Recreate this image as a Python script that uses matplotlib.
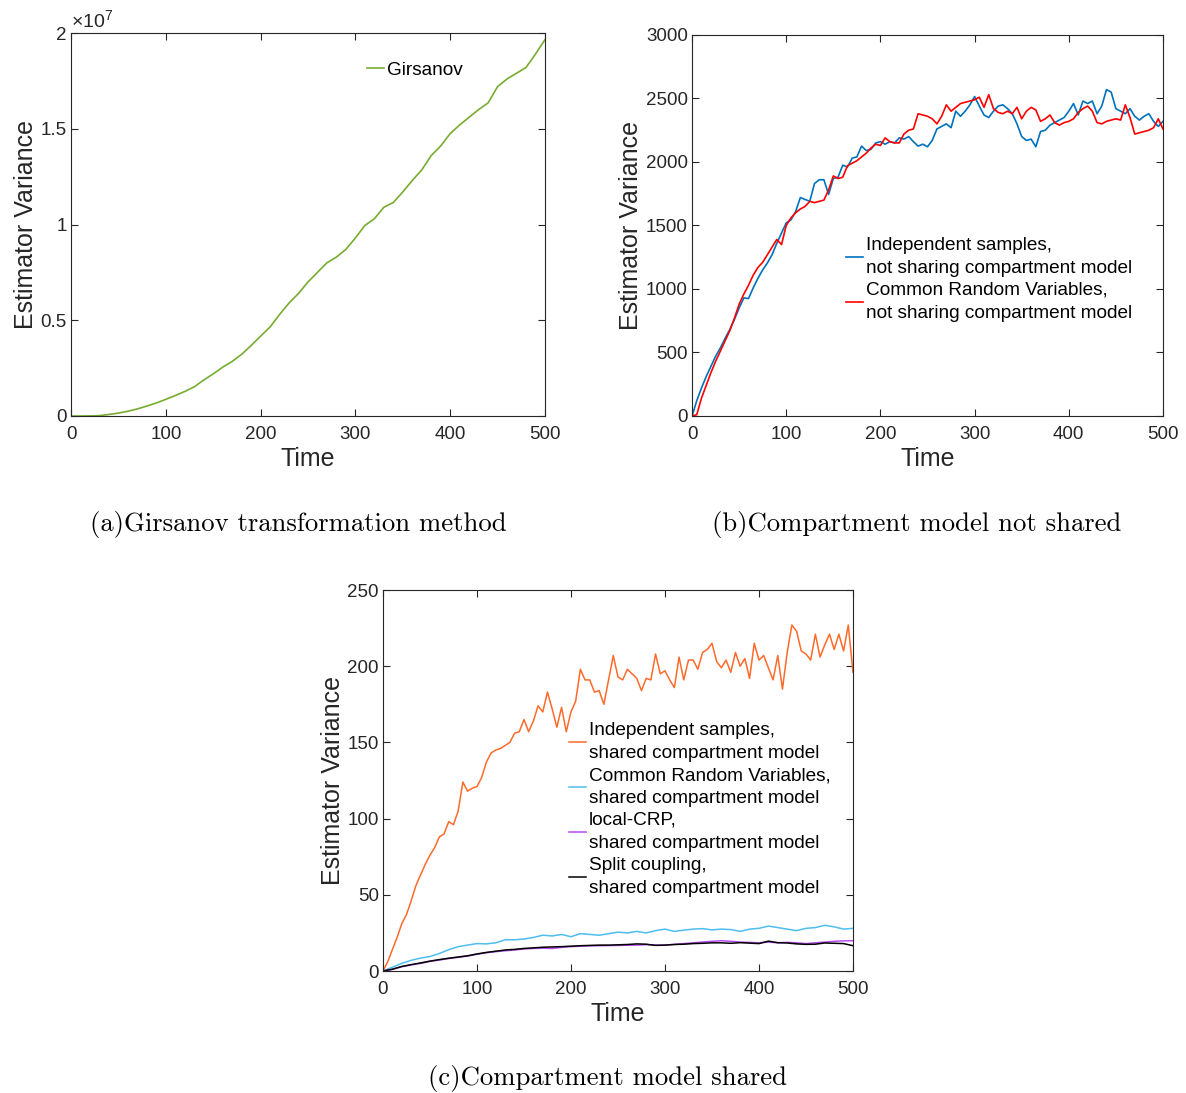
import numpy as np
import matplotlib
matplotlib.use('Agg')
import matplotlib.pyplot as plt

plt.rcParams['font.family'] = ['Liberation Sans', 'DejaVu Sans']
plt.rcParams['mathtext.fontset'] = 'custom'
plt.rcParams['mathtext.rm'] = 'Liberation Sans'
plt.rcParams['mathtext.it'] = 'Liberation Sans'

# --- data ---
t10 = np.arange(0, 501, 10)
t5 = np.arange(0, 501, 5)

# (a) Girsanov, in units of 1e7
girsanov = [0, 0, 0.0005, 0.002, 0.008, 0.015, 0.025, 0.037, 0.052, 0.068,
            0.087, 0.107, 0.128, 0.152, 0.188, 0.22, 0.255, 0.285, 0.322, 0.368,
            0.417, 0.465, 0.53, 0.59, 0.64, 0.7, 0.75, 0.8, 0.83, 0.87,
            0.93, 0.995, 1.03, 1.09, 1.115, 1.17, 1.23, 1.285, 1.36, 1.41,
            1.475, 1.52, 1.56, 1.6, 1.635, 1.72, 1.76, 1.79, 1.82, 1.89, 1.965]

# (b) compartment model not shared
indep_not_shared = [0, 120, 220, 310, 390, 470, 535, 610, 680, 760,
                    850, 930, 925, 1010, 1085, 1150, 1205, 1270, 1360, 1440,
                    1520, 1545, 1610, 1720, 1705, 1690, 1830, 1860, 1860, 1745,
                    1870, 1880, 1975, 1960, 2030, 2040, 2125, 2090, 2100, 2150,
                    2160, 2140, 2160, 2150, 2190, 2180, 2200, 2160, 2125, 2140,
                    2120, 2170, 2260, 2280, 2300, 2270, 2400, 2360, 2400, 2450,
                    2515, 2440, 2370, 2350, 2400, 2440, 2450, 2420, 2380, 2300,
                    2200, 2170, 2180, 2120, 2240, 2250, 2290, 2310, 2330, 2350,
                    2400, 2460, 2370, 2480, 2460, 2480, 2380, 2440, 2570, 2550,
                    2420, 2400, 2380, 2420, 2360, 2330, 2360, 2380, 2320, 2280, 2320]
crn_not_shared = [0, 10, 140, 240, 340, 430, 510, 590, 670, 770,
                  880, 960, 1030, 1110, 1170, 1210, 1270, 1330, 1390, 1350,
                  1500, 1560, 1600, 1630, 1650, 1690, 1680, 1690, 1700, 1780,
                  1890, 1870, 1880, 1970, 1990, 2010, 2040, 2070, 2110, 2140,
                  2130, 2190, 2160, 2150, 2150, 2220, 2250, 2260, 2380, 2370,
                  2360, 2340, 2300, 2360, 2450, 2400, 2430, 2460, 2470, 2480,
                  2490, 2510, 2430, 2530, 2420, 2390, 2380, 2400, 2380, 2430,
                  2340, 2400, 2430, 2410, 2320, 2340, 2370, 2310, 2290, 2310,
                  2320, 2340, 2390, 2420, 2440, 2400, 2310, 2300, 2320, 2330,
                  2340, 2330, 2450, 2350, 2220, 2230, 2240, 2250, 2270, 2340, 2260]

# (c) compartment model shared
indep_shared = [0, 6, 14, 22, 31, 37, 46, 56, 63, 70,
                76, 81, 88, 90, 98, 96, 105, 124, 118, 120,
                121, 127, 137, 143, 145, 146, 148, 150, 156, 157,
                165, 157, 164, 174, 170, 183, 172, 160, 173, 157,
                170, 177, 198, 191, 191, 183, 184, 175, 191, 207,
                193, 191, 198, 195, 192, 184, 192, 191, 208, 195,
                197, 191, 186, 206, 191, 204, 204, 198, 209, 211,
                215, 203, 199, 204, 196, 209, 200, 205, 192, 215,
                204, 207, 199, 191, 207, 185, 209, 227, 223, 210,
                208, 204, 221, 206, 214, 221, 211, 221, 210, 227, 196]
crn_shared = [0, 2.5, 5, 7, 8.5, 9.5, 11.5, 14, 16, 17,
              18, 17.8, 18.5, 20.5, 20.5, 21, 22, 23.5, 23, 24,
              22.5, 24.5, 24, 23.5, 24.5, 25.5, 25, 26, 25, 26.5,
              27.5, 26, 26.8, 27.5, 27.8, 27, 27.5, 27.2, 26, 27.5,
              28, 29.5, 28.5, 27.5, 26.5, 28, 28.5, 30, 29, 27.5, 28]
local_crp = [0, 1, 2.8, 4, 5, 6.3, 7.2, 8.2, 9, 9.8,
             11, 12, 12.7, 13.3, 13.8, 14.5, 14.8, 15, 14.8, 15.5,
             16, 16.3, 16.5, 16.6, 16.7, 16.8, 16.9, 17, 17.3, 17.1,
             17, 17.5, 18, 18.5, 19, 19.5, 19.9, 19.5, 19, 18.8,
             18.5, 19, 18.5, 18.8, 18.5, 18, 18.5, 19, 19.5, 19.8, 19.9]
split_coupling = [0, 1.2, 3, 4.2, 5.3, 6.5, 7.5, 8.4, 9.2, 10,
                  11.2, 12.2, 13, 13.8, 14.2, 14.8, 15.2, 15.6, 15.8, 16,
                  16.3, 16.6, 16.8, 17, 17, 17.2, 17.4, 17.8, 17.6, 16.8,
                  17, 17.4, 17.6, 18, 18.2, 18.5, 18.5, 18.2, 18.6, 18.3,
                  18, 19.6, 18.6, 18.4, 17.8, 17.5, 17.6, 18.4, 18.2, 18, 16.6]

tick_col = '#262626'


def style_axes(ax, yticks, ylim):
    ax.set_xlim(0, 500)
    ax.set_ylim(*ylim)
    ax.set_xticks([0, 100, 200, 300, 400, 500])
    ax.set_yticks(yticks)
    ax.tick_params(direction='in', top=True, right=True, length=5,
                   width=0.8, labelsize=13.5, colors=tick_col)
    ax.tick_params(axis='x', pad=7)
    ax.tick_params(axis='y', pad=3)
    for s in ax.spines.values():
        s.set_color(tick_col)
        s.set_linewidth(0.8)
    ax.set_xlabel('Time', fontsize=18, color=tick_col, labelpad=3)
    ax.set_ylabel('Estimator Variance', fontsize=18, color=tick_col, labelpad=2)


def style_legend(leg):
    for txt in leg.get_texts():
        txt.set_linespacing(1.47)


fig = plt.figure(figsize=(11.86, 10.93), dpi=100)

# (a)
ax1 = fig.add_axes([0.0599, 0.6194, 0.3996, 0.3504])
ax1.plot(t10, girsanov, color='#77AC30', lw=1.2, label='Girsanov')
style_axes(ax1, [0, 0.5, 1, 1.5, 2], (0, 2))
ax1.set_yticklabels(['0', '0.5', '1', '1.5', '2'])
ax1.text(0.0, 1.005, r'$\times10^{7}$', transform=ax1.transAxes,
         fontsize=14, color=tick_col, ha='left', va='bottom')
ax1.legend(loc='upper left', bbox_to_anchor=(0.605, 0.95), frameon=False,
           handlelength=0.9, handletextpad=0.15, borderpad=0, fontsize=13.7)

# (b)
ax2 = fig.add_axes([0.5835, 0.6194, 0.3971, 0.3486])
ax2.plot(t5, indep_not_shared, color='#0072BD', lw=1.2,
         label='Independent samples,\nnot sharing compartment model')
ax2.plot(t5, crn_not_shared, color='#FF0000', lw=1.2,
         label='Common Random Variables,\nnot sharing compartment model')
style_axes(ax2, np.arange(0, 3001, 500), (0, 3000))
leg2 = ax2.legend(loc='upper left', bbox_to_anchor=(0.306, 0.495), frameon=False,
                  handlelength=0.9, handletextpad=0.15, borderpad=0,
                  labelspacing=0.25, fontsize=13.7)
style_legend(leg2)

# (c)
ax3 = fig.add_axes([0.3229, 0.1116, 0.3963, 0.3486])
ax3.plot(t5, indep_shared, color='#FF6A2A', lw=1.1,
         label='Independent samples,\nshared compartment model')
ax3.plot(t10, crn_shared, color='#4DBEEE', lw=1.1,
         label='Common Random Variables,\nshared compartment model')
ax3.plot(t10, local_crp, color='#B84BF0', lw=1.1,
         label='local-CRP,\nshared compartment model')
ax3.plot(t10, split_coupling, color='black', lw=1.1,
         label='Split coupling,\nshared compartment model')
style_axes(ax3, np.arange(0, 251, 50), (0, 250))
leg3 = ax3.legend(loc='upper left', bbox_to_anchor=(0.375, 0.678), frameon=False,
                  handlelength=0.9, handletextpad=0.15, borderpad=0,
                  labelspacing=0.25, fontsize=13.7)
style_legend(leg3)

# captions
cap = dict(fontsize=19.2, family='cmr10', ha='center', va='center', color='black')
fig.text(298 / 1186, 1 - 524 / 1093, '(a)Girsanov transformation method', **cap)
fig.text(917 / 1186, 1 - 524 / 1093, '(b)Compartment model not shared', **cap)
fig.text(608 / 1186, 1 - 1079 / 1093, '(c)Compartment model shared', **cap)

fig.savefig('out.png', dpi=100)
